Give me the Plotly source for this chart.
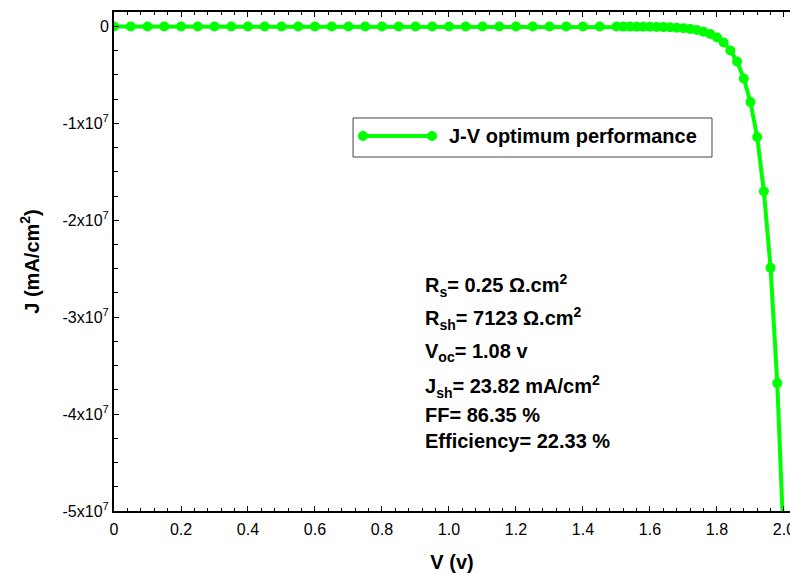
import plotly.graph_objects as go

# J-V characteristic of the optimised cell
voltage = [0.00, 0.05, 0.10, 0.15, 0.20, 0.25, 0.30, 0.35, 0.40, 0.45,
           0.50, 0.55, 0.60, 0.65, 0.70, 0.75, 0.80, 0.85, 0.90, 0.95,
           1.00, 1.05, 1.10, 1.15, 1.20, 1.25, 1.30, 1.35, 1.40, 1.45,
           1.50, 1.52, 1.54, 1.56, 1.58, 1.60, 1.62, 1.64, 1.66, 1.68,
           1.70, 1.72, 1.74, 1.76, 1.78, 1.80, 1.82, 1.84, 1.86, 1.88,
           1.90, 1.92, 1.94, 1.96, 1.98, 2.00]
current_density = [0, 0, 0, 0, 0, 0, 0, 0, 0, 0,
                   0, 0, 0, 0, 0, 0, 0, 0, 0, 0,
                   0, 0, 0, 0, 0, 0, 0, 0, 0, 0,
                   -4.0e3, -6.0e3, -9.0e3, -1.3e4, -1.9e4, -2.8e4, -4.1e4, -6.0e4, -8.5e4, -1.2e5,
                   -1.7e5, -2.5e5, -3.6e5, -5.3e5, -7.7e5, -1.13e6, -1.65e6, -2.47e6, -3.60e6, -5.36e6,
                   -7.80e6, -1.14e7, -1.70e7, -2.49e7, -3.68e7, -5.40e7]

x_tick_vals = [0, 0.2, 0.4, 0.6, 0.8, 1.0, 1.2, 1.4, 1.6, 1.8, 2.0]
x_tick_text = ["0", "0.2", "0.4", "0.6", "0.8", "1.0", "1.2", "1.4", "1.6", "1.8", "2.0"]
y_tick_vals = [0, -1e7, -2e7, -3e7, -4e7, -5e7]
y_tick_text = ["0", "-1x10<sup>7</sup>", "-2x10<sup>7</sup>", "-3x10<sup>7</sup>",
               "-4x10<sup>7</sup>", "-5x10<sup>7</sup>"]

legend_label = "J-V optimum performance"
cell_parameters = [
    "R<sub>s</sub>= 0.25 \u03a9.cm<sup>2</sup>",
    "R<sub>sh</sub>= 7123 \u03a9.cm<sup>2</sup>",
    "V<sub>oc</sub>= 1.08 v",
    "J<sub>sh</sub>= 23.82 mA/cm<sup>2</sup>",
    "FF= 86.35 %",
    "Efficiency= 22.33 %",
]

GREEN = "#00ff00"
FONT = "Liberation Sans, Arial, sans-serif"

fig = go.Figure()
fig.add_trace(go.Scatter(
    x=voltage, y=current_density, mode="lines+markers",
    line=dict(color=GREEN, width=4),
    marker=dict(color=GREEN, size=10),
    name=legend_label, showlegend=False,
))

# parameter block, one annotation per line
param_y = [0.4529, 0.3848, 0.3186, 0.2485, 0.1924, 0.1403]
for text, yp in zip(cell_parameters, param_y):
    fig.add_annotation(x=0.457, y=yp, xref="paper", yref="paper",
                       xanchor="left", yanchor="middle", showarrow=False,
                       text=text, font=dict(family=FONT, size=20, color="black", weight="bold"))

# boxed legend: line sample with end markers and label
lx0, lx1, ly = 0.3683, 0.4704, 0.7515
fig.add_shape(type="rect", xref="paper", yref="paper", x0=0.3536, x1=0.8846, y0=0.7094, y1=0.7876,
              line=dict(color="#444444", width=1), fillcolor="white", layer="above")
fig.add_shape(type="line", xref="paper", yref="paper", x0=lx0, x1=lx1, y0=ly, y1=ly,
              line=dict(color=GREEN, width=4), layer="above")
for cx in (lx0, lx1):
    fig.add_shape(type="circle", xref="paper", yref="paper", xsizemode="pixel", ysizemode="pixel",
                  xanchor=cx, yanchor=ly, x0=-5, x1=5, y0=-5, y1=5,
                  line=dict(color=GREEN, width=0), fillcolor=GREEN, layer="above")
fig.add_annotation(x=0.4926, y=ly, xref="paper", yref="paper", xanchor="left", yanchor="middle",
                   showarrow=False, text=legend_label,
                   font=dict(family=FONT, size=20, color="black", weight="bold"))

fig.update_xaxes(
    range=[0, 2.018], tickvals=x_tick_vals, ticktext=x_tick_text, automargin=False,
    showline=True, linecolor="black", linewidth=2, mirror="allticks",
    ticks="inside", ticklen=5, tickwidth=1, tickcolor="black",
    minor=dict(dtick=0.04, ticks="inside", ticklen=3, tickcolor="black", tickwidth=1),
    showgrid=False, zeroline=False, ticklabeloverflow="allow", ticklabelstandoff=3,
    tickfont=dict(family=FONT, size=16, color="black"),
    title=dict(text="V (v)", font=dict(family=FONT, size=20, color="black", weight="bold"), standoff=22),
)
fig.update_yaxes(
    range=[-5e7, 1.5e6], tickvals=y_tick_vals, ticktext=y_tick_text, automargin=False,
    showline=True, linecolor="black", linewidth=2,
    ticks="inside", ticklen=5, tickwidth=1, tickcolor="black",
    minor=dict(dtick=2.5e6, ticks="inside", ticklen=4, tickcolor="black", tickwidth=1),
    showgrid=False, zeroline=False,
    tickfont=dict(family=FONT, size=16, color="black"),
    title=dict(text="J (mA/cm<sup>2</sup>)", font=dict(family=FONT, size=20, color="black", weight="bold"), standoff=18),
)

fig.update_layout(
    width=790, height=573,
    margin=dict(l=114, r=0, t=12, b=62, autoexpand=False),
    paper_bgcolor="white", plot_bgcolor="white",
)

fig.write_html("out.html")
